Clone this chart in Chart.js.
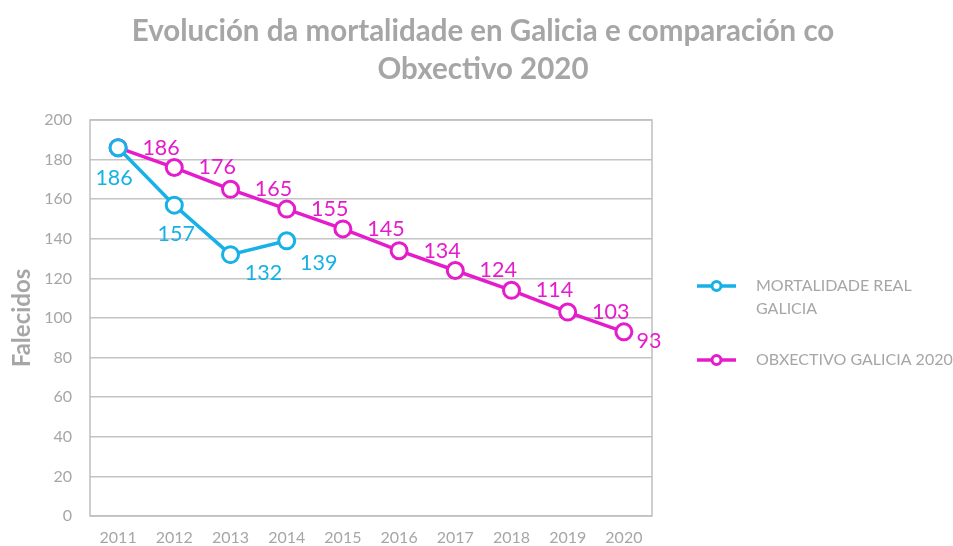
<!DOCTYPE html>
<html><head><meta charset="utf-8">
<script src="https://cdn.jsdelivr.net/npm/chart.js@4.4.1/dist/chart.umd.min.js"></script>
<style>html,body{margin:0;padding:0;background:#fff;}canvas{display:block;}</style>
</head><body>
<canvas id="c" width="953" height="546"></canvas>
<script>
const years = ['2011','2012','2013','2014','2015','2016','2017','2018','2019','2020'];
const realGalicia = [186,157,132,139,null,null,null,null,null,null];
const obxectivo2020 = [186,176,165,155,145,134,124,114,103,93];
const seriesNames = ['MORTALIDADE REAL GALICIA','OBXECTIVO GALICIA 2020'];
const titleLines = ['Evolución da mortalidade en Galicia e comparación co','Obxectivo 2020'];
const yTitle = 'Falecidos';

const BLUE = '#16b1e6';
const MAG = '#e51ccb';
const GREY = '#a6a6a6';
const FONT = 'Lato, "Open Sans", sans-serif';

// label placement (dx, dy of label centre from point) per dataset
const labelOffsets = [
  [[-4,30],[2,29],[33,18],[32,22]],
  [[43,0],[43,0],[43,0],[43,0],[43,0],[43,0],[43,0],[43,0],[43,0],[25,9]]
];

const titlePlugin = {
  id: 'centredTitle',
  afterDraw(chart) {
    const ctx = chart.ctx;
    ctx.save();
    ctx.fillStyle = GREY;
    ctx.font = 'bold 29.5px ' + FONT;
    ctx.textAlign = 'center';
    ctx.textBaseline = 'middle';
    titleLines.forEach((t, i) => ctx.fillText(t, 483, 31 + i * 38));
    ctx.restore();
  }
};

const labelPlugin = {
  id: 'pointLabels',
  afterDatasetsDraw(chart) {
    const ctx = chart.ctx;
    ctx.save();
    ctx.font = '21.5px ' + FONT;
    ctx.textAlign = 'center';
    ctx.textBaseline = 'middle';
    chart.data.datasets.forEach((ds, di) => {
      const meta = chart.getDatasetMeta(di);
      meta.data.forEach((pt, i) => {
        const v = ds.data[i];
        if (v === null || v === undefined) return;
        const off = labelOffsets[di][i] || [0,0];
        ctx.fillStyle = ds.borderColor;
        ctx.fillText(String(v), pt.x + off[0], pt.y + off[1]);
      });
    });
    ctx.restore();
  }
};

const legendPlugin = {
  id: 'sideLegend',
  afterDraw(chart) {
    const ctx = chart.ctx;
    ctx.save();
    const items = [
      {lines: ['MORTALIDADE REAL', 'GALICIA'], y: 286},
      {lines: ['OBXECTIVO GALICIA 2020'], y: 360}
    ];
    items.forEach((it, i) => {
      const ds = chart.data.datasets[i];
      ctx.strokeStyle = ds.borderColor;
      ctx.lineWidth = 3.5;
      ctx.beginPath(); ctx.moveTo(697, it.y); ctx.lineTo(736, it.y); ctx.stroke();
      ctx.beginPath(); ctx.arc(716.5, it.y, 4.5, 0, Math.PI*2);
      ctx.fillStyle = '#fff'; ctx.fill(); ctx.lineWidth = 3; ctx.stroke();
      ctx.fillStyle = GREY;
      ctx.font = '16px ' + FONT;
      ctx.textAlign = 'left'; ctx.textBaseline = 'middle';
      it.lines.forEach((t, k) => ctx.fillText(t, 756, it.y + k*23));
    });
    ctx.restore();
  }
};

const borderPlugin = {
  id: 'plotBorder',
  beforeDatasetsDraw(chart) {
    const a = chart.chartArea, ctx = chart.ctx;
    ctx.save();
    ctx.strokeStyle = '#bfbfbf'; ctx.lineWidth = 1.5;
    ctx.strokeRect(a.left, a.top, a.right - a.left, a.bottom - a.top);
    ctx.restore();
  }
};

new Chart(document.getElementById('c'), {
  type: 'line',
  data: {
    labels: years,
    datasets: [
      {label: seriesNames[0], data: realGalicia, borderColor: BLUE, backgroundColor: '#fff',
       borderWidth: 3.5, pointRadius: 8, pointBorderWidth: 3, pointBackgroundColor: '#fff', spanGaps: false, order: 1},
      {label: seriesNames[1], data: obxectivo2020, borderColor: MAG, backgroundColor: '#fff',
       borderWidth: 3.5, pointRadius: 8, pointBorderWidth: 3, pointBackgroundColor: '#fff', order: 2}
    ]
  },
  options: {
    responsive: false,
    animation: false,
    devicePixelRatio: 1,
    layout: {padding: {left: 0, right: 301, top: 120, bottom: 0}},
    plugins: {
      legend: {display: false},
      tooltip: {enabled: false},
      title: {display: false}
    },
    scales: {
      x: {
        offset: true,
        grid: {display: false, drawTicks: false},
        border: {display: false},
        ticks: {color: GREY, font: {family: FONT, size: 16}, padding: 12, maxRotation: 0},
        afterFit(s) { s.height = 30; }
      },
      y: {
        min: 0, max: 200,
        grid: {color: '#c4c4c4', lineWidth: 1.5, drawTicks: false},
        border: {display: false},
        ticks: {stepSize: 20, color: GREY, font: {family: FONT, size: 16}, padding: 18},
        title: {display: true, text: yTitle, color: GREY, font: {family: FONT, size: 24, weight: 'bold'}, padding: {top: 8, bottom: 0}},
        afterFit(s) { s.width = 90; }
      }
    }
  },
  plugins: [borderPlugin, labelPlugin, legendPlugin, titlePlugin]
});
</script>
</body></html>
